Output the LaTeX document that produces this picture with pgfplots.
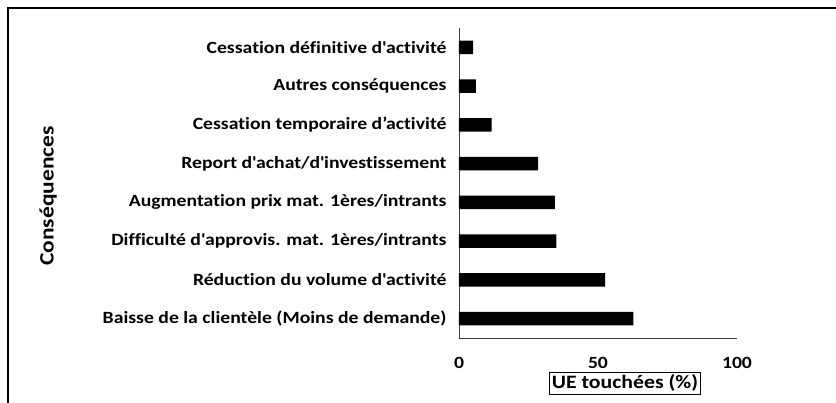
\documentclass[border=0pt]{standalone}
\usepackage{pgfplots}
\pgfplotsset{compat=1.18}
\usepackage{fontspec}
\setmainfont{Carlito}[FakeStretch=1.15, Ligatures=NoCommon]
\newcommand{\ap}{\textquotesingle}

\begin{document}
\begin{tikzpicture}
  \path[use as bounding box] (-459bp,-65bp) rectangle (377bp,338bp);
  % outer frame (cropped on right and bottom)
  \draw[line width=1.5bp] (-451bp,-65bp) -- (-451bp,330bp) -- (377bp,330bp);
  \begin{axis}[
      at={(0,0)}, anchor=origin,
      scale only axis,
      width  = 278bp,
      height = 310bp,
      xbar,
      bar width = 13.3bp,
      xmin = 0, xmax = 100,
      ymin = 0.5, ymax = 8.5,
      axis x line*=bottom,
      axis y line*=left,
      axis line style = {-, draw=black!75, line width=0.9bp},
      xtick = {0,50,100},
      ytick = {1,...,8},
      major tick length = 0,
      yticklabels = {
        Baisse de la clientèle (Moins de demande),
        Réduction du volume d\ap activité,
        Difficulté d\ap approvis. mat. 1ères/intrants,
        Augmentation prix mat. 1ères/intrants,
        Report d\ap achat/d\ap investissement,
        Cessation temporaire d’activité,
        Autres conséquences,
        Cessation définitive d\ap activité},
      tick label style = {font=\fontsize{17.2}{19}\selectfont\bfseries},
      /pgf/number format/assume math mode=true,
      xticklabel style = {yshift=-16bp},
      yticklabel style = {xshift=-9bp},
      xlabel = {UE touchées (\%)},
      xlabel style = {at={(rel axis cs:0.597,0)}, anchor=center, yshift=-45bp,
                      draw=black, line width=0.8bp, inner sep=2.5bp,
                      font=\fontsize{19}{21}\selectfont\bfseries},
      ylabel = {Conséquences},
      ylabel style = {at={(rel axis cs:-1.478,0.458)}, anchor=center,
                      font=\fontsize{20.5}{22}\selectfont\bfseries},
    ]
    \addplot[fill=black, draw=none] coordinates {
      (62.7,1) (52.6,2) (35.0,3) (34.5,4) (28.5,5) (11.7,6) (6.1,7) (5.1,8)
    };
  \end{axis}
\end{tikzpicture}
\end{document}
